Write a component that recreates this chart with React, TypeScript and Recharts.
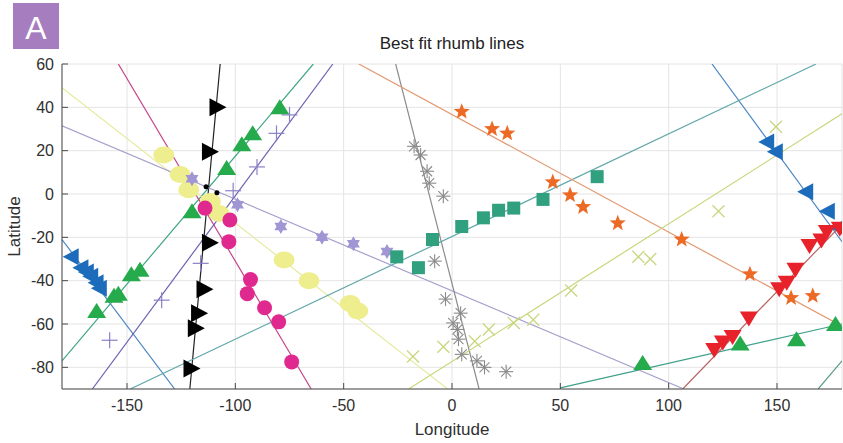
import React from 'react';
import { ComposedChart, Line, Scatter, XAxis, YAxis, CartesianGrid } from 'recharts';

type LL = [number, number];

// axis ticks
const lonTicks = [-150, -100, -50, 0, 50, 100, 150];
const latTicks = [-80, -60, -40, -20, 0, 20, 40, 60];

// markers, [lon, lat]
const blueTri: LL[] = [[145, 24], [149, 19.5], [163, 1], [173, -8], [178, -15.5], [-176, -29], [-171.5, -34], [-169, -36], [-167, -38], [-164.5, -41], [-163, -43.5]];
const greenTri: LL[] = [[-164, -54], [-156, -47], [-154, -46], [-148, -37], [-144, -35], [-120, -8], [-104, 12], [-97, 23], [-92, 28], [-79.5, 40], [88, -78], [133, -69], [159, -67], [177, -60]];
const blackTri: LL[] = [[-108, 40], [-111.5, 19.5], [-111.5, -22.5], [-114, -44], [-116.5, -55], [-118, -62], [-120, -80.5]];
const blackDots: LL[] = [[-113.5, 3.4], [-108.5, 0.6]];
const magentaCirc: LL[] = [[-114, -6.5], [-102.5, -12], [-103, -22], [-93, -39.5], [-94.5, -46], [-86.5, -52.5], [-80, -59], [-74, -77.5]];
const yellowOval: LL[] = [[-133, 18], [-125.5, 9], [-121.5, 2], [-111.5, -3.5], [-107.5, -9], [-77.5, -30.5], [-66, -40], [-47, -50.5], [-43.5, -54]];
const lavenderHex: LL[] = [[-120, 7], [-99, -5], [-79, -15], [-60, -20], [-45.5, -23], [-30, -26.5]];
const purplePlus: LL[] = [[-158, -67.5], [-134, -49], [-116, -32], [-101, 1.5], [-90, 12.5], [-81, 28], [-75, 36.5]];
const grayAst: LL[] = [[-17.5, 22], [-14.5, 18], [-11.5, 10.5], [-10.5, 5], [-4, -1], [-8, -31], [-3, -48.5], [4, -55], [0.5, -59.5], [2.5, -62.5], [3, -67], [4.5, -74], [11.5, -77], [15, -80], [25, -82]];
const tealSq: LL[] = [[-25.5, -29], [-15.5, -34], [-9, -21], [4.5, -15], [14.5, -11], [21.5, -7.5], [28.5, -6.5], [42, -2.5], [67, 8]];
const orangeStar: LL[] = [[4.5, 38], [18.5, 30], [25.5, 28], [46.5, 5.5], [54.5, -0.5], [60.5, -6], [76.5, -13.5], [106, -21], [137.5, -37], [156.5, -48], [166.5, -47]];
const oliveX: LL[] = [[-18, -75], [-4, -70.5], [10.5, -68], [17, -62.5], [28.5, -59.5], [37.5, -58], [55, -44.5], [86, -29], [91.5, -30], [123, -8], [149.5, 31]];
const redTri: LL[] = [[121, -72], [125, -68.5], [129.5, -66], [137, -57.5], [151, -44], [154.5, -41], [158.5, -35], [165, -24], [170.5, -21.5], [173, -17.5], [179, -16]];

// fitted rhumb lines (end points)
const blueLineE: LL[] = [[120, 60], [180, -22]];
const blueLineW: LL[] = [[-180, -21], [-128, -90]];
const greenLine1: LL[] = [[-180, -77], [-64, 60]];
const greenLine1Wrap: LL[] = [[169, -90], [180, -77]];
const greenLine2: LL[] = [[50, -89.5], [180, -60]];
const blackLine: LL[] = [[-121, -90], [-107, 60]];
const magentaLine: LL[] = [[-154, 60], [-65, -90]];
const yellowLine: LL[] = [[-180, 49], [-2, -90]];
const lavenderLine: LL[] = [[-180, 31.5], [107, -90]];
const purpleLine: LL[] = [[-166, -90], [-55, 60]];
const grayLine: LL[] = [[-26, 60], [12.5, -90]];
const tealLine: LL[] = [[-148.5, -90], [168, 60]];
const orangeLine: LL[] = [[-43, 60], [180, -61]];
const oliveLine: LL[] = [[-20, -90], [180, 37]];
const redLine: LL[] = [[106.5, -90], [180, -14]];

const pts = (a: LL[]) => a.map(([lon, lat]) => ({ lon, lat }));

const FONT = '"Liberation Sans", Arial, sans-serif';
const AXIS = '#4a4a4a';
const TXT = '#303030';

// marker shapes
const triLeft = (c: string) => ({ cx, cy }: any) => (
  <polygon points={`${cx - 8},${cy} ${cx + 8},${cy - 8.5} ${cx + 8},${cy + 8.5}`} fill={c} />
);
const triRight = (c: string) => ({ cx, cy }: any) => (
  <polygon points={`${cx + 8.5},${cy} ${cx - 8.5},${cy - 9} ${cx - 8.5},${cy + 9}`} fill={c} />
);
const triUp = (c: string) => ({ cx, cy }: any) => (
  <polygon points={`${cx},${cy - 8} ${cx - 9.5},${cy + 7} ${cx + 9.5},${cy + 7}`} fill={c} />
);
const triDown = (c: string) => ({ cx, cy }: any) => (
  <polygon points={`${cx},${cy + 8} ${cx - 9},${cy - 7} ${cx + 9},${cy - 7}`} fill={c} />
);
const circle = (c: string, r: number) => ({ cx, cy }: any) => <circle cx={cx} cy={cy} r={r} fill={c} />;
const oval = (c: string) => ({ cx, cy }: any) => <ellipse cx={cx} cy={cy} rx={10.5} ry={8.5} fill={c} />;
const square = (c: string) => ({ cx, cy }: any) => <rect x={cx - 6.5} y={cy - 6.5} width={13} height={13} fill={c} />;

const starPts = (cx: number, cy: number, n: number, ro: number, ri: number) => {
  const out: string[] = [];
  for (let i = 0; i < n * 2; i++) {
    const r = i % 2 === 0 ? ro : ri;
    const a = -Math.PI / 2 + (i * Math.PI) / n;
    out.push(`${cx + r * Math.cos(a)},${cy + r * Math.sin(a)}`);
  }
  return out.join(' ');
};
const star5 = (c: string) => ({ cx, cy }: any) => <polygon points={starPts(cx, cy, 5, 8.5, 3.6)} fill={c} />;
const star6 = (c: string) => ({ cx, cy }: any) => <polygon points={starPts(cx, cy, 6, 7.5, 4.3)} fill={c} />;

const plus = (c: string) => ({ cx, cy }: any) => (
  <g stroke={c} strokeWidth={1.2}>
    <line x1={cx - 8} y1={cy} x2={cx + 8} y2={cy} />
    <line x1={cx} y1={cy - 8} x2={cx} y2={cy + 8} />
  </g>
);
const cross = (c: string) => ({ cx, cy }: any) => (
  <g stroke={c} strokeWidth={1.3}>
    <line x1={cx - 6} y1={cy - 6} x2={cx + 6} y2={cy + 6} />
    <line x1={cx - 6} y1={cy + 6} x2={cx + 6} y2={cy - 6} />
  </g>
);
const asterisk = (c: string) => ({ cx, cy }: any) => (
  <g stroke={c} strokeWidth={1.1}>
    <line x1={cx - 7} y1={cy} x2={cx + 7} y2={cy} />
    <line x1={cx} y1={cy - 7} x2={cx} y2={cy + 7} />
    <line x1={cx - 5} y1={cy - 5} x2={cx + 5} y2={cy + 5} />
    <line x1={cx - 5} y1={cy + 5} x2={cx + 5} y2={cy - 5} />
  </g>
);

const lines: { d: LL[]; c: string }[] = [
  { d: blueLineE, c: '#4a86c0' },
  { d: blueLineW, c: '#4a86c0' },
  { d: greenLine1, c: '#3fa585' },
  { d: greenLine1Wrap, c: '#5a9a8a' },
  { d: greenLine2, c: '#3fa08a' },
  { d: blackLine, c: '#222222' },
  { d: magentaLine, c: '#c4448a' },
  { d: yellowLine, c: '#e6eaa0' },
  { d: lavenderLine, c: '#a6a0cc' },
  { d: purpleLine, c: '#6c62b2' },
  { d: grayLine, c: '#8c8c8c' },
  { d: tealLine, c: '#62a8aa' },
  { d: orangeLine, c: '#e39a72' },
  { d: oliveLine, c: '#c9d67c' },
  { d: redLine, c: '#b96060' },
];

const App: React.FC = () => {
  return (
    <div style={{ position: 'absolute', left: 0, top: 0, width: 843, height: 443, background: '#fff', fontFamily: FONT }}>
      <div
        style={{
          position: 'absolute', left: 13, top: 3, width: 46, height: 46, background: '#a67ec0',
          color: '#fff', fontSize: 32, lineHeight: '46px', textAlign: 'center',
        }}
      >
        <span style={{ position: 'relative', top: 2 }}>A</span>
      </div>
      <div
        style={{
          position: 'absolute', left: 452, top: 35, transform: 'translateX(-50%)', whiteSpace: 'nowrap',
          fontSize: 17, lineHeight: '17px', color: '#222',
        }}
      >
        Best fit rhumb lines
      </div>
      <ComposedChart width={843} height={443} margin={{ top: 64, right: 1, bottom: 0, left: 0 }}>
        <CartesianGrid stroke="#e4e4e4" strokeWidth={1} />
        <XAxis
          type="number" dataKey="lon" domain={[-180, 180]} ticks={lonTicks} allowDataOverflow interval={0}
          height={54} tickSize={-6} tickMargin={17}
          tick={{ fill: TXT, fontSize: 16, fontFamily: FONT }}
          axisLine={{ stroke: AXIS }} tickLine={{ stroke: AXIS }}
          label={{ value: 'Longitude', position: 'insideBottom', offset: 8, fill: TXT, fontSize: 17, fontFamily: FONT }}
        />
        <XAxis
          xAxisId="top" orientation="top" type="number" domain={[-180, 180]} ticks={lonTicks} allowDataOverflow interval={0}
          height={0} tickSize={-6} tickFormatter={() => ''}
          axisLine={{ stroke: AXIS }} tickLine={{ stroke: AXIS }}
        />
        <YAxis
          type="number" dataKey="lat" domain={[-90, 60]} ticks={latTicks} allowDataOverflow interval={0}
          width={62} tickSize={-6} tickMargin={14}
          tick={{ fill: TXT, fontSize: 16, fontFamily: FONT }}
          axisLine={{ stroke: AXIS }} tickLine={{ stroke: AXIS }}
          label={{ value: 'Latitude', angle: -90, position: 'insideLeft', offset: 14, fill: TXT, fontSize: 17, fontFamily: FONT, style: { textAnchor: 'middle' } }}
        />
        <YAxis
          yAxisId="right" orientation="right" type="number" domain={[-90, 60]} ticks={latTicks} allowDataOverflow interval={0}
          width={0} tickSize={-6} tickFormatter={() => ''}
          axisLine={{ stroke: AXIS }} tickLine={{ stroke: AXIS }}
        />

        {lines.map((l, i) => (
          <Line
            key={'l' + i} data={pts(l.d)} dataKey="lat" type="linear" stroke={l.c} strokeWidth={1.2}
            dot={false} activeDot={false} isAnimationActive={false}
          />
        ))}

        <Scatter data={pts(yellowOval)} shape={oval('#eeee8e')} isAnimationActive={false} />
        <Scatter data={pts(lavenderHex)} shape={star6('#a096d4')} isAnimationActive={false} />
        <Scatter data={pts(purplePlus)} shape={plus('#8a80c6')} isAnimationActive={false} />
        <Scatter data={pts(grayAst)} shape={asterisk('#8a8a8a')} isAnimationActive={false} />
        <Scatter data={pts(oliveX)} shape={cross('#cad67e')} isAnimationActive={false} />
        <Scatter data={pts(tealSq)} shape={square('#30a07e')} isAnimationActive={false} />
        <Scatter data={pts(orangeStar)} shape={star5('#ec6a26')} isAnimationActive={false} />
        <Scatter data={pts(magentaCirc)} shape={circle('#e0298f', 7.5)} isAnimationActive={false} />
        <Scatter data={pts(greenTri)} shape={triUp('#25aa4c')} isAnimationActive={false} />
        <Scatter data={pts(blackTri)} shape={triRight('#000000')} isAnimationActive={false} />
        <Scatter data={pts(blackDots)} shape={circle('#000000', 2.5)} isAnimationActive={false} />
        <Scatter data={pts(blueTri)} shape={triLeft('#1c6cbb')} isAnimationActive={false} />
        <Scatter data={pts(redTri)} shape={triDown('#e8222a')} isAnimationActive={false} />
      </ComposedChart>
    </div>
  );
};

export default App;
